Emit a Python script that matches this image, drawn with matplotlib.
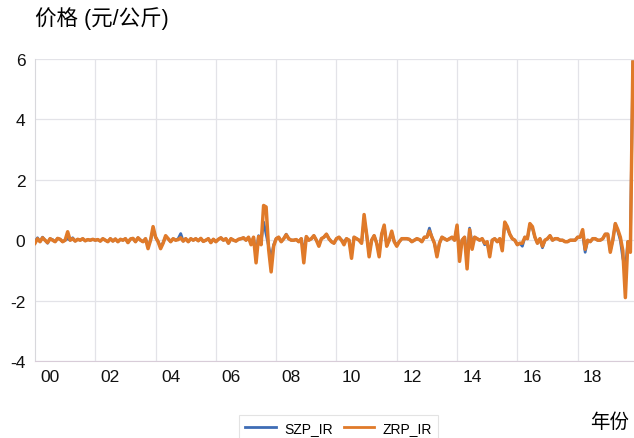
import matplotlib
matplotlib.use("Agg")
import matplotlib.pyplot as plt
from matplotlib.ticker import FixedLocator, FixedFormatter, NullFormatter
from matplotlib.lines import Line2D
import numpy as np

plt.rcParams['font.family'] = ['Liberation Sans', 'Noto Sans CJK SC', 'DejaVu Sans']

# Monthly series, Jan 2000 onward
start_year = 2000
zrp_ir = [
    # 2000
    -0.10, 0.05, -0.05, 0.08, 0.00, -0.08, 0.05, 0.00, -0.05, 0.06, 0.03, -0.05,
    # 2001
    0.00, 0.28, 0.00, 0.05, -0.03, 0.03, 0.00, 0.05, -0.02, 0.02, 0.00, 0.03,
    # 2002
    0.00, 0.02, -0.03, 0.05, 0.00, -0.05, 0.05, -0.03, 0.04, -0.05, 0.03, 0.00,
    # 2003
    0.05, -0.08, 0.04, 0.06, -0.05, 0.08, 0.00, -0.05, 0.05, -0.28, 0.00, 0.45,
    # 2004
    0.10, -0.05, -0.28, -0.10, 0.15, 0.05, -0.05, 0.05, 0.00, 0.02, 0.08, -0.03,
    # 2005
    0.05, -0.05, 0.05, 0.00, 0.05, -0.02, 0.06, -0.04, 0.00, 0.05, -0.08, 0.03,
    # 2006
    -0.05, 0.03, 0.08, 0.00, 0.05, -0.10, 0.05, 0.00, -0.03, 0.03, 0.05, 0.08,
    # 2007
    0.00, 0.10, -0.15, 0.10, -0.75, 0.12, -0.15, 1.15, 1.10, -0.30, -1.05, -0.20,
    # 2008
    0.05, 0.10, -0.05, 0.05, 0.18, 0.05, 0.00, 0.00, 0.02, -0.05, 0.05, -0.75,
    # 2009
    0.12, 0.00, 0.05, 0.15, 0.00, -0.20, 0.05, 0.10, 0.20, 0.05, -0.05, -0.10,
    # 2010
    0.05, 0.10, 0.00, -0.15, 0.05, 0.00, -0.60, 0.10, 0.05, 0.00, -0.10, 0.85,
    # 2011
    0.20, -0.55, 0.00, 0.15, -0.10, -0.55, 0.20, 0.50, -0.20, 0.00, 0.30, -0.05,
    # 2012
    -0.20, -0.05, 0.05, 0.05, 0.05, 0.03, -0.05, 0.00, 0.05, 0.02, -0.05, 0.10,
    # 2013
    0.10, 0.30, 0.10, -0.10, -0.55, -0.10, 0.10, 0.05, 0.00, 0.05, 0.10, 0.00,
    # 2014
    0.50, -0.70, 0.00, 0.10, -0.95, 0.35, -0.30, 0.10, 0.05, 0.00, 0.05, -0.10,
    # 2015
    -0.05, -0.55, 0.00, 0.05, -0.05, 0.05, -0.35, 0.60, 0.45, 0.20, 0.05, 0.00,
    # 2016
    -0.15, -0.10, -0.10, 0.10, 0.05, 0.55, 0.45, 0.10, -0.10, 0.05, -0.20, 0.00,
    # 2017
    0.05, 0.15, 0.00, 0.05, 0.05, 0.00, 0.00, -0.05, -0.05, 0.00, 0.00, 0.00,
    # 2018
    0.10, 0.10, 0.35, -0.30, 0.00, -0.05, 0.05, 0.05, 0.00, 0.00, 0.05, 0.20,
    # 2019
    0.20, -0.40, 0.00, 0.55, 0.35, 0.10, -0.35, -1.90, -0.05, -0.40, 5.90,
]
szp_ir = [
    # 2000
    -0.05, 0.08, -0.05, 0.10, 0.00, -0.10, 0.05, 0.02, -0.05, 0.06, 0.03, -0.05,
    # 2001
    0.00, 0.05, 0.00, 0.08, -0.03, 0.03, 0.00, 0.05, -0.02, 0.02, 0.00, 0.03,
    # 2002
    0.00, 0.02, -0.03, 0.05, 0.00, -0.05, 0.05, -0.03, 0.04, -0.05, 0.03, 0.00,
    # 2003
    0.05, -0.08, 0.04, 0.06, -0.05, 0.08, 0.00, -0.05, 0.05, -0.20, 0.00, 0.35,
    # 2004
    0.10, -0.05, -0.22, -0.08, 0.12, 0.05, -0.05, 0.05, 0.00, 0.05, 0.22, -0.03,
    # 2005
    0.05, -0.05, 0.05, 0.00, 0.05, -0.02, 0.06, -0.04, 0.00, 0.05, -0.08, 0.03,
    # 2006
    -0.05, 0.03, 0.08, 0.00, 0.05, -0.10, 0.05, 0.00, -0.03, 0.03, 0.05, 0.08,
    # 2007
    0.00, 0.08, -0.10, 0.08, -0.45, 0.15, -0.05, 0.60, 0.20, -0.20, -0.60, -0.15,
    # 2008
    0.05, 0.10, -0.05, 0.05, 0.20, 0.05, 0.00, 0.00, 0.02, -0.05, 0.05, -0.40,
    # 2009
    0.12, 0.00, 0.05, 0.15, 0.00, -0.15, 0.05, 0.10, 0.20, 0.05, -0.05, -0.10,
    # 2010
    0.05, 0.10, 0.00, -0.05, 0.05, 0.00, -0.45, 0.10, 0.05, 0.00, -0.10, 0.70,
    # 2011
    0.20, -0.45, 0.00, 0.15, -0.10, -0.40, 0.20, 0.45, -0.15, 0.00, 0.25, -0.05,
    # 2012
    -0.15, -0.05, 0.05, 0.05, 0.05, 0.03, -0.05, 0.00, 0.05, 0.02, -0.05, 0.10,
    # 2013
    0.10, 0.40, 0.10, -0.10, -0.50, -0.10, 0.10, 0.05, 0.00, 0.05, 0.10, 0.00,
    # 2014
    0.45, -0.50, 0.00, 0.10, -0.60, 0.40, -0.10, 0.10, 0.05, 0.00, 0.05, -0.15,
    # 2015
    -0.10, -0.45, 0.00, 0.05, -0.05, 0.05, -0.25, 0.55, 0.40, 0.20, 0.05, 0.00,
    # 2016
    -0.15, -0.10, -0.20, 0.10, 0.05, 0.50, 0.40, 0.10, -0.10, 0.05, -0.25, 0.00,
    # 2017
    0.05, 0.15, 0.00, 0.05, 0.05, 0.00, 0.00, -0.05, -0.05, 0.00, 0.00, 0.00,
    # 2018
    0.10, 0.10, 0.20, -0.40, 0.00, -0.05, 0.05, 0.05, 0.00, 0.00, 0.05, 0.20,
    # 2019
    0.20, -0.35, 0.00, 0.55, 0.30, 0.00, -0.60, -0.95, -0.05, -0.10, 5.90,
]
series_names = ["SZP_IR", "ZRP_IR"]
series_colors = ["#3E6DB5", "#E07A29"]
year_labels = ["00", "02", "04", "06", "08", "10", "12", "14", "16", "18"]
y_ticks = [-4, -2, 0, 2, 4, 6]

t = start_year + np.arange(len(zrp_ir)) / 12.0
label_years = start_year + 2 * np.arange(len(year_labels))

fig = plt.figure(figsize=(6.34, 4.39), dpi=100)
ax = fig.add_axes([35 / 634, 77 / 439, 599 / 634, 302 / 439])

ax.plot(t, szp_ir, color=series_colors[0], lw=2.0, zorder=3)
ax.plot(t, zrp_ir, color=series_colors[1], lw=2.5, zorder=4)

ax.set_xlim(start_year, start_year + 19.87)
ax.set_ylim(-4, 6)

# grid lines on even-year boundaries, labels centred within the year
ax.xaxis.set_major_locator(FixedLocator(label_years[1:]))
ax.xaxis.set_major_formatter(NullFormatter())
ax.xaxis.set_minor_locator(FixedLocator(label_years + 0.5))
ax.xaxis.set_minor_formatter(FixedFormatter(year_labels))
ax.set_yticks(y_ticks)
ax.set_yticklabels([str(v) for v in y_ticks])

ax.tick_params(axis="both", which="both", length=0, labelsize=12.5, colors="#111111")
ax.tick_params(axis="x", which="minor", pad=6)
ax.tick_params(axis="y", pad=7)
ax.grid(True, which="major", color="#E3E3E8", lw=0.9)
ax.set_axisbelow(True)
for side in ("top", "right"):
    ax.spines[side].set_visible(False)
ax.spines["left"].set_color("#D8D8DC")
ax.spines["bottom"].set_color("#D8CCD8")

fig.text(35 / 634, 1 - 19 / 439, "价格 (元/公斤)", fontsize=15.5, va="center", ha="left",
         family=['Liberation Sans', 'Noto Sans CJK SC'])
fig.text(610 / 634, 1 - 422 / 439, "年份", fontsize=14, va="center", ha="center",
         family=['Noto Sans CJK SC', 'DejaVu Sans'])

handles = [Line2D([], [], color=c, lw=2.0) for c in series_colors]
leg = fig.legend(handles, series_names, loc="upper left",
                 bbox_to_anchor=(232 / 634, 1 - 409 / 439), ncol=2,
                 frameon=True, fancybox=False, fontsize=10, handlelength=2.2,
                 columnspacing=0.8, handletextpad=0.6, borderpad=0.45)
leg.get_frame().set_edgecolor("#DDDDDD")
leg.get_frame().set_linewidth(0.8)

fig.savefig("out.png", dpi=100)
